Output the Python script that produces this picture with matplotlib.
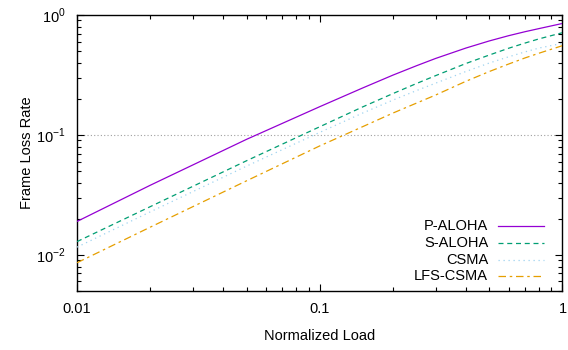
import numpy as np
import matplotlib
matplotlib.use('Agg')
import matplotlib.pyplot as plt
from matplotlib import ticker

plt.rcParams['font.family'] = ['Liberation Sans', 'DejaVu Sans']
plt.rcParams['font.size'] = 10.5
plt.rcParams['mathtext.fontset'] = 'custom'
plt.rcParams['mathtext.rm'] = 'Liberation Sans'

# normalized load and frame loss rate
load = [0.01, 0.02, 0.05, 0.1, 0.15, 0.2, 0.25, 0.3, 0.4, 0.5, 0.6, 0.7, 0.8, 1.0]
p_aloha = [0.019, 0.038, 0.092, 0.172, 0.246, 0.315, 0.377, 0.434, 0.53, 0.608, 0.672, 0.725, 0.77, 0.85]
s_aloha = [0.0129, 0.0252, 0.061, 0.117, 0.171, 0.221, 0.268, 0.312, 0.394, 0.464, 0.528, 0.583, 0.632, 0.712]
csma = [0.0116, 0.0228, 0.055, 0.105, 0.152, 0.195, 0.234, 0.27, 0.338, 0.398, 0.448, 0.492, 0.53, 0.58]
lfs_csma = [0.0086, 0.0170, 0.0415, 0.081, 0.117, 0.152, 0.184, 0.215, 0.28, 0.338, 0.39, 0.438, 0.48, 0.555]

names = ['P-ALOHA', 'S-ALOHA', 'CSMA', 'LFS-CSMA']
series = [p_aloha, s_aloha, csma, lfs_csma]
colors = ['#9400d3', '#009e73', '#9fd3f0', '#e69f00']
styles = ['-', (0, (4, 3)), (0, (1, 3)), (0, (6, 3, 2, 3))]

fig = plt.figure(figsize=(5.68, 3.5), dpi=100)
ax = fig.add_axes([0.1356, 0.1686, 0.8547, 0.7886])

ax.axhline(0.1, color='#a0a0a0', lw=0.8, ls=(0, (1, 2)), zorder=1)

for y, c, s in zip(series, colors, styles):
    ax.plot(load, y, color=c, ls=s, lw=0.9, zorder=3)

ax.set_xscale('log')
ax.set_yscale('log')
ax.set_xlim(0.01, 1)
ax.set_ylim(0.005, 1)

ax.xaxis.set_major_locator(ticker.FixedLocator([0.01, 0.1, 1]))
ax.xaxis.set_major_formatter(ticker.FixedFormatter(['0.01', '0.1', '1']))
ax.xaxis.set_minor_locator(ticker.LogLocator(base=10, subs=np.arange(2, 10)))
ax.xaxis.set_minor_formatter(ticker.NullFormatter())
ax.yaxis.set_major_locator(ticker.FixedLocator([0.01, 0.1, 1]))
ax.yaxis.set_major_formatter(ticker.FixedFormatter([r'$10^{-2}$', r'$10^{-1}$', r'$10^{0}$']))
ax.yaxis.set_minor_locator(ticker.LogLocator(base=10, subs=np.arange(2, 10)))
ax.yaxis.set_minor_formatter(ticker.NullFormatter())

ax.tick_params(which='both', direction='in', top=True, right=True, width=0.8)
ax.tick_params(which='major', length=5, pad=8)
ax.tick_params(which='minor', length=3)
for sp in ax.spines.values():
    sp.set_linewidth(1.0)

ax.set_xlabel('Normalized Load', labelpad=9)
ax.set_ylabel('Frame Loss Rate', labelpad=2)

# gnuplot-style key: label right-aligned, sample line to the right
for i, (n, c, s) in enumerate(zip(names, colors, styles)):
    yk = 0.237 - i * 0.0615
    ax.text(0.847, yk, n, transform=ax.transAxes, ha='right', va='center')
    ax.plot([0.867, 0.962], [yk, yk], transform=ax.transAxes, color=c, ls=s, lw=0.9)

fig.savefig('out.png', dpi=100)
